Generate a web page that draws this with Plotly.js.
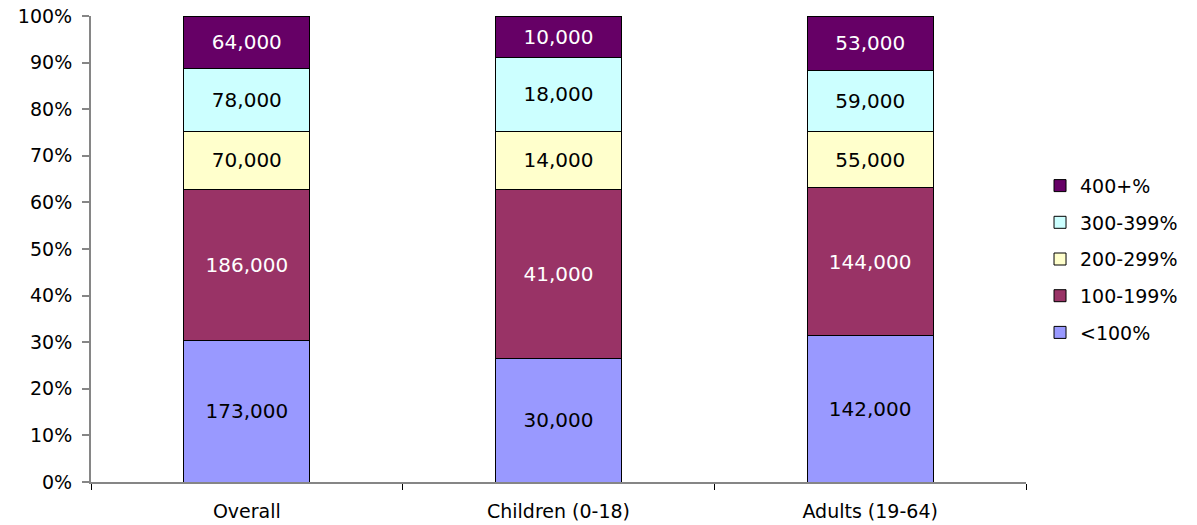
<!DOCTYPE html>
<html>
<head>
<meta charset="utf-8">
<script src="https://cdn.plot.ly/plotly-3.0.1.min.js"></script>
<style>
  html, body { margin: 0; padding: 0; background: #fff; }
  #chart { width: 1197px; height: 525px; }
</style>
</head>
<body>
<div id="chart"></div>
<script>
// Population counts by income band (% of poverty level), per group
const groups = ['Overall', 'Children (0-18)', 'Adults (19-64)'];
const bandNames = ['<100%', '100-199%', '200-299%', '300-399%', '400+%'];
const under100 = [173000, 30000, 142000];
const from100to199 = [186000, 41000, 144000];
const from200to299 = [70000, 14000, 55000];
const from300to399 = [78000, 18000, 59000];
const over400 = [64000, 10000, 53000];

const bandValues = [under100, from100to199, from200to299, from300to399, over400];
const fills = ['#9999FF', '#993366', '#FFFFCC', '#CCFFFF', '#660066'];
const textColors = ['#000000', '#FFFFFF', '#000000', '#000000', '#FFFFFF'];

const fmt = v => v.toLocaleString('en-US');

// Highest band listed first in the legend, matching the stacking order
const traces = bandValues.map((vals, i) => ({
  type: 'bar',
  name: bandNames[i],
  legendgroup: 'band' + i,
  legendrank: bandValues.length - i,
  x: groups,
  y: vals,
  text: vals.map(fmt),
  texttemplate: '%{text}',
  textposition: 'inside',
  insidetextanchor: 'middle',
  textangle: 0,
  insidetextfont: { family: 'DejaVu Sans, Verdana, sans-serif', size: 20, color: textColors[i] },
  marker: { color: fills[i], line: { color: '#000000', width: 1 } },
  width: 0.404,
  hoverinfo: 'skip'
}));

const layout = {
  width: 1197,
  height: 525,
  margin: { l: 91, r: 171, t: 16, b: 43 },
  paper_bgcolor: '#ffffff',
  plot_bgcolor: '#ffffff',
  barmode: 'stack',
  barnorm: 'percent',
  showlegend: true,
  font: { family: 'DejaVu Sans, Verdana, sans-serif', size: 19, color: '#000000' },
  xaxis: {
    type: 'category',
    showline: true,
    linecolor: '#868686',
    linewidth: 2,
    showgrid: false,
    zeroline: false,
    ticks: 'outside',
    tickson: 'boundaries',
    ticklen: 6,
    tickwidth: 1,
    tickcolor: '#000000',
    ticklabelstandoff: 11,
    tickfont: { size: 19 },
    fixedrange: true
  },
  yaxis: {
    range: [0, 100],
    dtick: 10,
    tick0: 0,
    ticksuffix: '%',
    showline: true,
    linecolor: '#868686',
    linewidth: 2,
    showgrid: false,
    zeroline: false,
    ticks: 'outside',
    ticklen: 7,
    tickwidth: 2,
    tickcolor: '#868686',
    ticklabelstandoff: 6,
    tickfont: { size: 19 },
    fixedrange: true
  },
  legend: {
    x: 1.015,
    xanchor: 'left',
    y: 0.478,
    yanchor: 'middle',
    traceorder: 'grouped',
    font: { size: 19 },
    tracegroupgap: 9,
    itemwidth: 30,
    bgcolor: 'rgba(0,0,0,0)'
  },
  hovermode: false
};

Plotly.newPlot('chart', traces, layout, { displayModeBar: false, staticPlot: true });
</script>
</body>
</html>
